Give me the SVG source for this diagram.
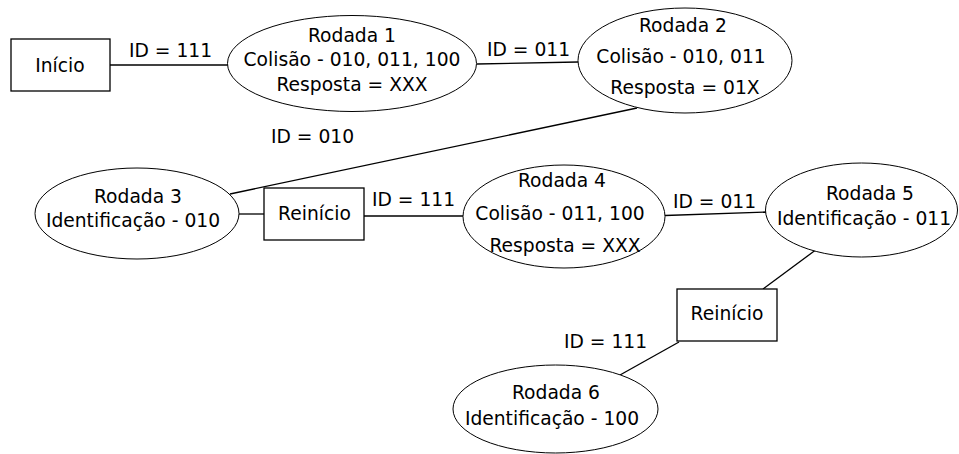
<svg xmlns="http://www.w3.org/2000/svg" width="959" height="454" viewBox="0 0 959 454">
  <style>
    .bg { fill: #ffffff; }
    .box { fill: #ffffff; stroke: #000000; stroke-width: 1.3; }
    .oval { fill: #ffffff; stroke: #000000; stroke-width: 1; }
    .edge { stroke: #000000; stroke-width: 1.3; fill: none; }
    text { font-family: "DejaVu Sans", "Liberation Sans", sans-serif; font-size: 18.7px; fill: #000000; }
    .c { text-anchor: middle; }
  </style>
  <rect class="bg" x="0" y="0" width="959" height="454"/>

  <!-- connectors -->
  <g id="connectors">
    <line class="edge" x1="110" y1="65" x2="228" y2="65"/>
    <line class="edge" x1="477" y1="64" x2="578" y2="62"/>
    <line class="edge" x1="637" y1="108" x2="230" y2="194"/>
    <line class="edge" x1="239" y1="214" x2="264" y2="214"/>
    <line class="edge" x1="364" y1="216" x2="463" y2="216"/>
    <line class="edge" x1="665" y1="215.5" x2="766" y2="212"/>
    <line class="edge" x1="817" y1="249" x2="763" y2="289"/>
    <line class="edge" x1="679" y1="342" x2="620" y2="375"/>
    <text x="129" y="57">ID = 111</text>
    <text x="487" y="56">ID = 011</text>
    <text x="271" y="143">ID = 010</text>
    <text x="372" y="206">ID = 111</text>
    <text x="673" y="208">ID = 011</text>
    <text x="564" y="348">ID = 111</text>
  </g>

  <g id="inicio">
    <rect class="box" x="11" y="39" width="99" height="52"/>
    <text class="c" x="60" y="72">Início</text>
  </g>

  <g id="rodada1">
    <ellipse class="oval" cx="352" cy="63.5" rx="124.5" ry="48"/>
    <text class="c" x="352" y="42">Rodada 1</text>
    <text class="c" x="352" y="66">Colisão - 010, 011, 100</text>
    <text class="c" x="352" y="91">Resposta = XXX</text>
  </g>

  <g id="rodada2">
    <ellipse class="oval" cx="685" cy="60.5" rx="107" ry="52.5"/>
    <text class="c" x="683" y="32">Rodada 2</text>
    <text class="c" x="681" y="63">Colisão - 010, 011</text>
    <text class="c" x="685" y="94">Resposta = 01X</text>
  </g>

  <g id="rodada3">
    <ellipse class="oval" cx="137" cy="213.5" rx="102" ry="45.5"/>
    <text class="c" x="138" y="203">Rodada 3</text>
    <text class="c" x="133" y="227">Identificação - 010</text>
  </g>

  <g id="reinicio1">
    <rect class="box" x="264" y="188" width="100" height="52"/>
    <text class="c" x="314.5" y="220">Reinício</text>
  </g>

  <g id="rodada4">
    <ellipse class="oval" cx="564" cy="216.5" rx="101" ry="51.5"/>
    <text class="c" x="562" y="187">Rodada 4</text>
    <text class="c" x="560" y="220">Colisão - 011, 100</text>
    <text class="c" x="565" y="252">Resposta = XXX</text>
  </g>

  <g id="rodada5">
    <ellipse class="oval" cx="861.5" cy="210" rx="96" ry="47"/>
    <text class="c" x="870" y="200">Rodada 5</text>
    <text class="c" x="864" y="225">Identificação - 011</text>
  </g>

  <g id="reinicio2">
    <rect class="box" x="677" y="289" width="100" height="52"/>
    <text class="c" x="727" y="320">Reinício</text>
  </g>

  <g id="rodada6">
    <ellipse class="oval" cx="555.5" cy="409" rx="102.5" ry="44"/>
    <text class="c" x="556" y="399">Rodada 6</text>
    <text class="c" x="552" y="425">Identificação - 100</text>
  </g>
</svg>
